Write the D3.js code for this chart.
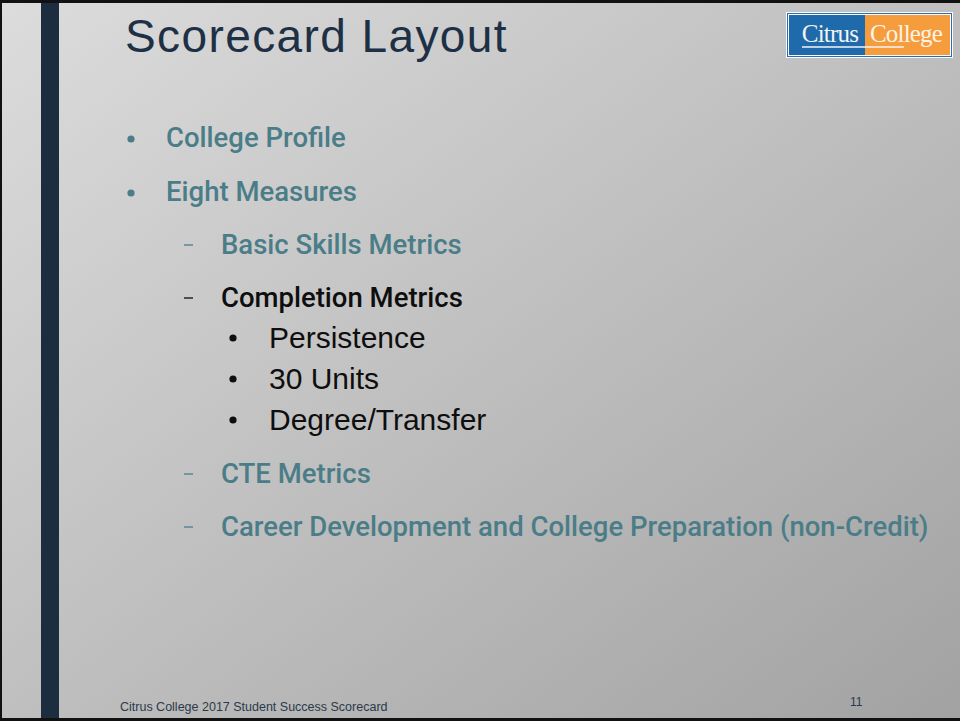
<!DOCTYPE html>
<html>
<head>
<meta charset="utf-8">
<script src="https://cdn.jsdelivr.net/npm/d3@7"></script>
<style>
  html, body { margin: 0; padding: 0; background: #fff; }
  svg { display: block; }
</style>
</head>
<body>
<script>
"use strict"

// slide content
const slideTitle = "Scorecard Layout"
const bulletTexts = [
    "College Profile",
    "Eight Measures",
    "Basic Skills Metrics",
    "Completion Metrics",
    "Persistence",
    "30 Units",
    "Degree/Transfer",
    "CTE Metrics",
    "Career Development and College Preparation (non-Credit)"
]
const bulletLevels = [1, 1, 2, 2, 3, 3, 3, 2, 2]
const highlighted = ["Completion Metrics", "Persistence", "30 Units", "Degree/Transfer"]
const footerText = "Citrus College 2017 Student Success Scorecard"
const pageNumber = "11"
const logoParts = ["Citrus", "College"]

const width = 960, height = 721

let svg = d3.select("body").append("svg")
    .attr("width", width)
    .attr("height", height)

let defs = svg.append("defs")
let grad = defs.append("linearGradient")
    .attr("id", "bg")
    .attr("x1", "0%").attr("y1", "0%")
    .attr("x2", "100%").attr("y2", "100%")
grad.append("stop").attr("offset", "0%").attr("stop-color", "#dcdcdc")
grad.append("stop").attr("offset", "100%").attr("stop-color", "#a2a2a2")

// background + frame
svg.append("rect")
    .attr("x", 0).attr("y", 0)
    .attr("width", width).attr("height", height)
    .attr("fill", "#111")
svg.append("rect")
    .attr("x", 2).attr("y", 3)
    .attr("width", width - 2).attr("height", height - 6)
    .attr("fill", "url(#bg)")

// navy side bar
svg.append("rect")
    .attr("x", 41).attr("y", 3)
    .attr("width", 18).attr("height", height - 6)
    .attr("fill", "#1c2d3f")

// title
svg.append("text")
    .attr("x", 125).attr("y", 52)
    .attr("font-family", "'Liberation Sans', Arial, sans-serif")
    .attr("font-size", 46)
    .attr("letter-spacing", 1.4)
    .attr("fill", "#1d3045")
    .text(slideTitle)

// logo
let logo = svg.append("g").attr("transform", "translate(786,12)")
logo.append("rect")
    .attr("width", 167).attr("height", 46)
    .attr("fill", "#fbfbfb")
logo.append("rect")
    .attr("x", 1.5).attr("y", 1.5)
    .attr("width", 164).attr("height", 43)
    .attr("fill", "none").attr("stroke", "#2a6db0").attr("stroke-width", 1)
logo.append("rect")
    .attr("x", 3).attr("y", 3)
    .attr("width", 76).attr("height", 40)
    .attr("fill", "#1f6aaa")
logo.append("rect")
    .attr("x", 79).attr("y", 3)
    .attr("width", 85).attr("height", 40)
    .attr("fill", "#f59c3c")
logo.append("text")
    .attr("x", 44).attr("y", 30)
    .attr("text-anchor", "middle")
    .attr("font-family", "'Liberation Serif', 'DejaVu Serif', serif")
    .attr("font-size", 25)
    .attr("letter-spacing", -0.8)
    .attr("fill", "#f4f4f4")
    .text(logoParts[0])
logo.append("text")
    .attr("x", 120).attr("y", 30)
    .attr("text-anchor", "middle")
    .attr("font-family", "'Liberation Serif', 'DejaVu Serif', serif")
    .attr("font-size", 25)
    .attr("letter-spacing", -0.8)
    .attr("fill", "#fdf3e6")
    .text(logoParts[1])
logo.append("line")
    .attr("x1", 16).attr("x2", 118)
    .attr("y1", 35).attr("y2", 35)
    .attr("stroke", "#f4f4f4").attr("stroke-width", 1.5)

// bullet list: vertical positions accumulate by level
let indent = d3.scaleOrdinal().domain([1, 2, 3]).range([166, 221, 269])
let markerX = d3.scaleOrdinal().domain([1, 2, 3]).range([131, 188, 233])
let gap = d3.scaleOrdinal().domain([1, 2, 3]).range([54, 53, 41])
let fontSize = d3.scaleOrdinal().domain([1, 2, 3]).range([27.5, 27.5, 30])

let yPos = []
bulletLevels.forEach((lvl, i) => {
    yPos.push(i === 0 ? 147 : yPos[i - 1] + gap(lvl))
})

let items = bulletTexts.map((t, i) => ({text: t, level: bulletLevels[i], y: yPos[i]}))

let rows = svg.append("g").attr("class", "bullets")
    .selectAll("g")
    .data(items)
    .enter().append("g")

const teal = "#4a7d88"
let colorOf = d => highlighted.includes(d.text) ? "#0e0e0e" : teal

rows.filter(d => d.level !== 2)
    .append("circle")
    .attr("cx", d => markerX(d.level))
    .attr("cy", d => d.y - (d.level === 1 ? 8 : 10))
    .attr("r", 3.6)
    .attr("fill", colorOf)

rows.filter(d => d.level === 2)
    .append("line")
    .attr("x1", d => markerX(d.level) - 4)
    .attr("x2", d => markerX(d.level) + 5)
    .attr("y1", d => d.y - 9)
    .attr("y2", d => d.y - 9)
    .attr("stroke", colorOf)
    .attr("stroke-width", 1.3)

rows.append("text")
    .attr("x", d => indent(d.level))
    .attr("y", d => d.y)
    .attr("font-family", d => d.level === 3
        ? "'Liberation Sans', Arial, sans-serif"
        : "Roboto, 'Liberation Sans', Arial, sans-serif")
    .attr("font-weight", d => d.level === 3 ? 400 : 500)
    .attr("font-size", d => fontSize(d.level))
    .attr("fill", colorOf)
    .text(d => d.text)

// footer
svg.append("text")
    .attr("x", 120).attr("y", 711)
    .attr("font-family", "'Liberation Sans', Arial, sans-serif")
    .attr("font-size", 12.5)
    .attr("fill", "#2b3a4a")
    .text(footerText)

svg.append("text")
    .attr("x", 850).attr("y", 706)
    .attr("font-family", "'Liberation Sans', Arial, sans-serif")
    .attr("font-size", 12)
    .attr("fill", "#2b3a4a")
    .text(pageNumber)
</script>
</body>
</html>
